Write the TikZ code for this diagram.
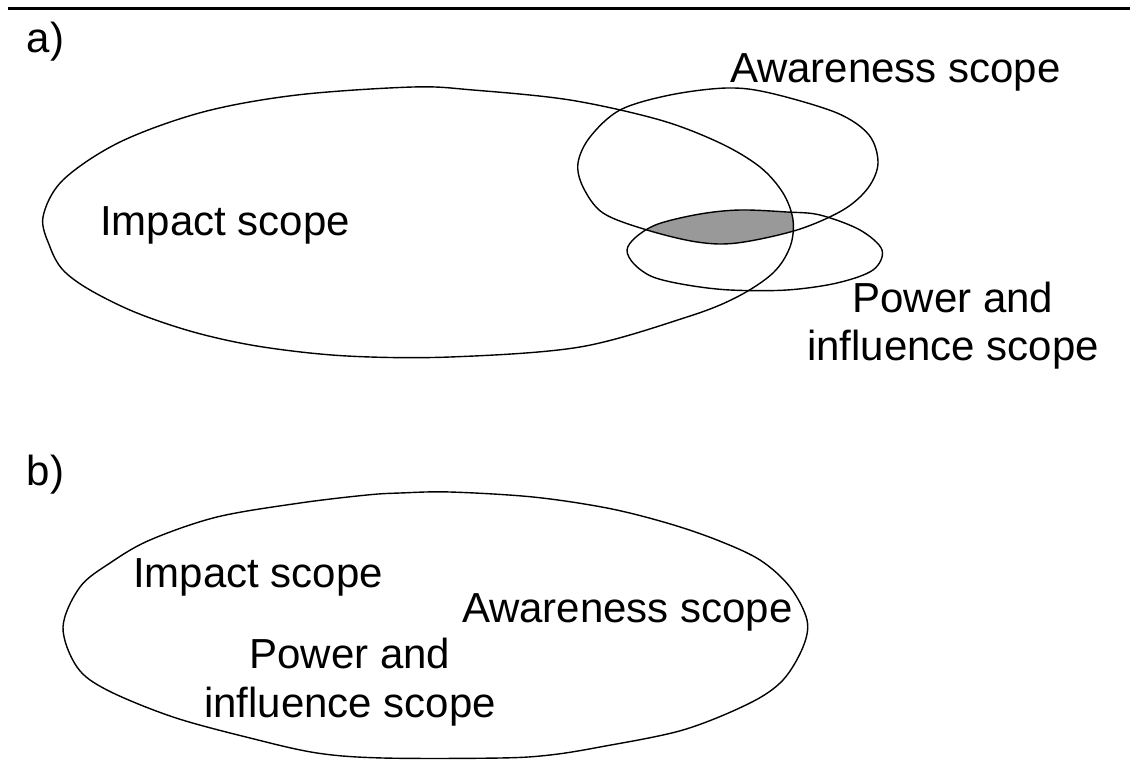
\documentclass[tikz,border=0pt]{standalone}
\usepackage{fontspec}
\setmainfont{Liberation Sans}
\begin{document}
\begin{tikzpicture}[x=1pt,y=-1pt,
  scopeline/.style={draw=black, line width=1.4pt, line join=round},
  lbl/.style={font=\fontsize{42}{48}\selectfont, inner sep=0pt, outer sep=0pt},
  lblw/.style={lbl, anchor=base west},
  lblc/.style={lbl, anchor=base}]
\useasboundingbox (0,0) rectangle (1130,760);
\fill[white] (0,0) rectangle (1130,760);
% top rule
\coordinate (ruleL) at (8,8.5);
\coordinate (ruleR) at (1130,8.5);
\draw[line width=2.2pt] (ruleL) -- (ruleR);

% ---- part a ----
\path[save path=\pImpactA] plot[smooth cycle, tension=0.55] coordinates {
 (43,217) (50,247) (63,270) (90,290) (137,313) (197,333) (263,347) (347,356)
 (450,357) (580,347) (687,317) (737,297) (773,273) (790,247) (793,220) (783,193)
 (760,167) (720,143) (660,120) (570,100) (473,90) (413,87) (297,95) (203,112)
 (120,142) (63,180)};
\path[save path=\pAware] plot[smooth cycle, tension=0.55] coordinates {
 (578,163) (583,187) (603,213) (647,230) (697,242) (737,243) (797,230) (843,210)
 (868,188) (878,163) (869,135) (837,113) (770,93) (727,88) (670,95) (620,110) (590,137)};
\path[save path=\pPower] plot[smooth cycle, tension=0.55] coordinates {
 (627,250) (634,264) (653,277) (687,285) (730,290) (787,290) (837,283) (873,270)
 (882,250) (860,230) (820,215) (787,212) (740,210) (700,214) (658,224) (636,237)};

\begin{scope}
  \clip[use path=\pImpactA];
  \clip[use path=\pAware];
  \fill[fill=black!40, use path=\pPower];
\end{scope}
\draw[scopeline, use path=\pImpactA];
\draw[scopeline, use path=\pAware];
\draw[scopeline, use path=\pPower];

\node[lblw] (la) at (27,53) {a)};
\node[lblw] (impA) at (100,235) {Impact scope};
\node[lblw] (awA) at (730,82) {Awareness scope};
\node[lblc] (pwA1) at (953,312) {Power and};
\node[lblc] (pwA2) at (953,360) {influence scope};

% ---- part b ----
\path[save path=\pImpactB] plot[smooth cycle, tension=0.55] coordinates {
 (63,627) (77,667) (107,690) (173,717) (250,738) (317,753) (383,758) (500,758)
 (550,755) (600,747) (683,730) (750,703) (783,680) (803,647) (807,620) (790,587)
 (760,560) (717,540) (667,523) (607,508) (533,497) (450,492) (400,493) (367,495)
 (300,503) (217,517) (150,540) (110,563) (80,587)};
\draw[scopeline, use path=\pImpactB];

\node[lblw] (lb) at (27,485) {b)};
\node[lblw] (impB) at (133,587) {Impact scope};
\node[lblw] (awB) at (462,622) {Awareness scope};
\node[lblc] (pwB1) at (350,668) {Power and};
\node[lblc] (pwB2) at (350,717) {influence scope};
\end{tikzpicture}
\end{document}
